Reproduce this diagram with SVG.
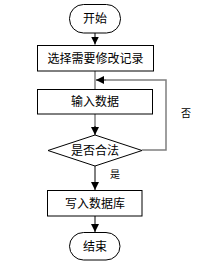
<svg xmlns="http://www.w3.org/2000/svg" width="216" height="265" viewBox="0 0 216 265">
<style>
.n{fill:#fff;stroke:#000;stroke-width:1}
.t{font-family:"Liberation Sans","Noto Sans CJK SC",sans-serif;font-size:12px;fill:#000;text-anchor:middle;dominant-baseline:central}
.l{font-family:"Liberation Sans","Noto Sans CJK SC",sans-serif;font-size:10px;fill:#000;text-anchor:middle;dominant-baseline:central}
.c{fill:none;stroke:#000;stroke-width:1}
.g{fill:none;stroke:#7f7f7f;stroke-width:1.5}
</style>
<defs>
<marker id="a" markerWidth="8" markerHeight="8" refX="8" refY="4" orient="auto" markerUnits="userSpaceOnUse">
<path d="M0,0 L8,4 L0,8 Z" fill="#000"/>
</marker>
</defs>
<rect width="216" height="265" fill="#fff"/>
<g id="connectors">
<line class="c" x1="95" y1="33" x2="95" y2="44.5" marker-end="url(#a)"/>
<line class="g" x1="95" y1="71" x2="95" y2="89"/>
<line class="g" x1="95" y1="114" x2="95" y2="127"/>
<line class="c" x1="95" y1="126" x2="95" y2="135" marker-end="url(#a)"/>
<polyline class="g" points="142,150 166,150 166,80 106,80"/>
<line class="c" x1="106" y1="80" x2="96" y2="80" marker-end="url(#a)"/>
<line class="c" x1="95" y1="166" x2="95" y2="190" marker-end="url(#a)"/>
<line class="c" x1="95" y1="216" x2="95" y2="232" marker-end="url(#a)"/>
<text class="l" x="186" y="113">否</text>
<text class="l" x="115" y="174">是</text>
</g>
<g id="start">
<rect class="n" x="69.5" y="4.5" width="51" height="28.5" rx="14" ry="14"/>
<text class="t" x="95" y="19">开始</text>
</g>
<g id="select">
<rect class="n" x="37.5" y="45.5" width="116" height="25.5"/>
<text class="t" x="95.5" y="58.5">选择需要修改记录</text>
</g>
<g id="input">
<rect class="n" x="37.5" y="89.5" width="115" height="24.5"/>
<text class="t" x="95" y="102">输入数据</text>
</g>
<g id="valid">
<polygon class="n" points="95,135 142,150.5 95,166 48,150.5"/>
<text class="t" x="95" y="150.5">是否合法</text>
</g>
<g id="write">
<rect class="n" x="47.5" y="190.5" width="94.5" height="25.5"/>
<text class="t" x="95" y="203.5">写入数据库</text>
</g>
<g id="end">
<rect class="n" x="69.5" y="232.5" width="50.5" height="27.5" rx="14" ry="14"/>
<text class="t" x="95" y="246.5">结束</text>
</g>
</svg>
